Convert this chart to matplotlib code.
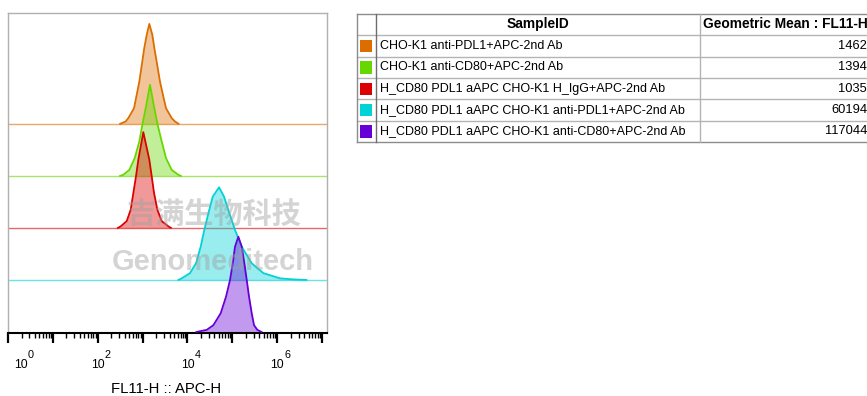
import numpy as np
import matplotlib
matplotlib.use('Agg')
from matplotlib import pyplot as plt
from matplotlib.ticker import LogLocator, NullFormatter
from matplotlib.transforms import ScaledTranslation
from matplotlib.patches import Rectangle

plt.rcParams['font.family'] = ['Liberation Sans', 'DejaVu Sans']

# histogram outlines: log10(FL11-H) and height (in stacking units)
orange_x = [2.50, 2.623, 2.682, 2.809, 2.853, 2.927, 3.038, 3.092, 3.150, 3.217, 3.261, 3.388, 3.471, 3.522, 3.649, 3.723, 3.80]
orange_h = [0, 0.045, 0.11, 0.30, 0.49, 0.81, 1.46, 1.71, 1.92, 1.71, 1.46, 0.81, 0.49, 0.30, 0.11, 0.045, 0]

green_x = [2.50, 2.570, 2.704, 2.824, 2.927, 2.994, 3.069, 3.165, 3.261, 3.336, 3.426, 3.522, 3.649, 3.796, 3.85]
green_h = [0, 0.02, 0.115, 0.34, 0.66, 0.98, 1.30, 1.75, 1.30, 0.98, 0.66, 0.34, 0.115, 0.02, 0]

red_x = [2.45, 2.512, 2.646, 2.735, 2.794, 2.853, 2.905, 3.016, 3.150, 3.203, 3.255, 3.329, 3.426, 3.574, 3.63]
red_h = [0, 0.03, 0.13, 0.35, 0.67, 0.99, 1.31, 1.84, 1.31, 0.99, 0.67, 0.35, 0.13, 0.03, 0]

cyan_x = [3.80, 3.872, 4.057, 4.191, 4.295, 4.376, 4.466, 4.563, 4.704, 4.815, 4.934, 5.060, 5.209, 5.432, 5.692, 6.063, 6.35, 6.65]
cyan_h = [0, 0.03, 0.13, 0.32, 0.64, 0.96, 1.28, 1.60, 1.78, 1.60, 1.28, 0.96, 0.64, 0.32, 0.13, 0.03, 0.01, 0]

purple_x = [4.20, 4.429, 4.577, 4.741, 4.860, 4.949, 5.009, 5.060, 5.134, 5.209, 5.268, 5.321, 5.372, 5.432, 5.484, 5.558, 5.65]
purple_h = [0, 0.04, 0.13, 0.36, 0.68, 1.0, 1.32, 1.64, 1.83, 1.64, 1.32, 1.0, 0.68, 0.36, 0.13, 0.04, 0]

sample_ids = ['CHO-K1 anti-PDL1+APC-2nd Ab',
              'CHO-K1 anti-CD80+APC-2nd Ab',
              'H_CD80 PDL1 aAPC CHO-K1 H_IgG+APC-2nd Ab',
              'H_CD80 PDL1 aAPC CHO-K1 anti-PDL1+APC-2nd Ab',
              'H_CD80 PDL1 aAPC CHO-K1 anti-CD80+APC-2nd Ab']
geo_means = [1462, 1394, 1035, 60194, 117044]
colors = ['#dc6e00', '#66d800', '#dd0000', '#00d2d6', '#6600d6']
offsets = [4, 3, 2, 1, 0]
tick_label_exps = [0, 2, 4, 6]

W, H = 867, 396
fig = plt.figure(figsize=(W / 100, H / 100), dpi=100)
ax = fig.add_axes([8 / W, (H - 333) / H, 319 / W, 320 / H])

curves = [(orange_x, orange_h), (green_x, green_h), (red_x, red_h), (cyan_x, cyan_h), (purple_x, purple_h)]
for (lx, h), c, off in zip(curves, colors, offsets):
  xs = 10 ** np.array(lx)
  ys = off + np.array(h)
  if off > 0:
    ax.axhline(off, color=c, lw=1, alpha=0.6, zorder=1)
  ax.fill_between(xs, off, ys, color=c, alpha=0.4, lw=0, zorder=2)
  ax.plot(xs, ys, color=c, lw=1.3, zorder=3)

ax.set_xscale('log')
ax.set_xlim(1, 10 ** 7.11)
ax.set_ylim(-0.02, 6.13)
ax.set_yticks([])
ax.xaxis.set_major_locator(LogLocator(base=10, subs=(1.0,), numticks=20))
ax.xaxis.set_minor_locator(LogLocator(base=10, subs=np.arange(2, 10), numticks=100))
ax.xaxis.set_major_formatter(NullFormatter())
ax.xaxis.set_minor_formatter(NullFormatter())
ax.tick_params(axis='x', which='major', length=7, width=1.6, direction='out', color='black')
ax.tick_params(axis='x', which='minor', length=3.5, width=1, direction='out', color='black')
for s in ['left', 'top', 'right']:
  ax.spines[s].set_color('#b0b0b0')
  ax.spines[s].set_linewidth(1)
ax.spines['bottom'].set_color('black')
ax.spines['bottom'].set_linewidth(1.5)

# decade labels, 10 with a raised exponent
for k in tick_label_exps:
  dx = 20 if k == 0 else 7
  tr = ax.get_xaxis_transform() + ScaledTranslation(dx / 100, -35 / 100, fig.dpi_scale_trans)
  ax.text(10 ** k, 0, '10', transform=tr, ha='right', va='baseline', fontsize=8.8)
  tr2 = ax.get_xaxis_transform() + ScaledTranslation(dx / 100, -25 / 100, fig.dpi_scale_trans)
  ax.text(10 ** k, 0, str(k), transform=tr2, ha='left', va='baseline', fontsize=7.8)

fig.text(166 / W, 3 / H, 'FL11-H :: APC-H', ha='center', va='baseline', fontsize=10.7)

# table on the right, drawn in pixel coordinates
tax = fig.add_axes([0, 0, 1, 1], zorder=5)
tax.set_xlim(0, W)
tax.set_ylim(H, 0)
tax.axis('off')
tax.patch.set_alpha(0)

left, sw_right, id_right, right = 357, 375.5, 700, 900
row_lines = [13.5, 35, 56.5, 78, 99.3, 120.5, 141.5]
for y in row_lines[1:-1]:
  tax.plot([left, right], [y, y], color='#b4b4b4', lw=1)
tax.plot([left, right], [row_lines[0], row_lines[0]], color='#8c8c8c', lw=1)
tax.plot([left, right], [row_lines[-1], row_lines[-1]], color='#8c8c8c', lw=1)
tax.plot([left, left], [row_lines[0], row_lines[-1]], color='#8c8c8c', lw=1)
tax.plot([sw_right, sw_right], [row_lines[0], row_lines[-1]], color='#6e6e6e', lw=1)
tax.plot([id_right, id_right], [row_lines[0], row_lines[-1]], color='#b4b4b4', lw=1)

tax.text((sw_right + id_right) / 2, (row_lines[0] + row_lines[1]) / 2, 'SampleID',
         ha='center', va='center', fontsize=9.9, fontweight='bold')
tax.text(703, (row_lines[0] + row_lines[1]) / 2, 'Geometric Mean : FL11-H',
         ha='left', va='center', fontsize=9.9, fontweight='bold')
for i, (sid, gm, c) in enumerate(zip(sample_ids, geo_means, colors)):
  yc = (row_lines[i + 1] + row_lines[i + 2]) / 2
  tax.add_patch(Rectangle((360, yc - 6), 11.5, 12.5, facecolor=c, edgecolor='none'))
  tax.text(380, yc, sid, ha='left', va='center', fontsize=9.0)
  tax.text(867, yc, str(gm), ha='right', va='center', fontsize=9.3)

# watermark
tax.text(214, 215, '吉满生物科技', ha='center', va='center', fontsize=21, fontweight='bold',
         color='#a0a0a0', alpha=0.45, family=['Noto Sans CJK SC', 'DejaVu Sans'])
tax.text(213, 262, 'Genomeditech', ha='center', va='center', fontsize=21, fontweight='bold',
         color='#a0a0a0', alpha=0.45)

fig.savefig('out.png', dpi=100)
